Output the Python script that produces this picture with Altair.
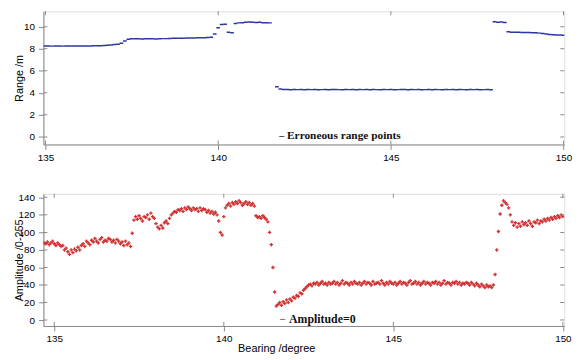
import altair as alt
import pandas as pd

# ---------------- data ----------------
# Range (m), bearing 135.0 .. 150.0 step 0.1 ; None = no return
RANGE = [
    8.25, 8.25, 8.24, 8.25, 8.25, 8.24, 8.25, 8.25, 8.26, 8.25,   # 135.x
    8.25, 8.26, 8.25, 8.26, 8.27, 8.27, 8.28, 8.30, 8.32, 8.35,   # 136.x
    8.38, 8.42, 8.50, 8.70, 8.86, 8.90, 8.90, 8.90, 8.88, 8.90,   # 137.x
    8.90, 8.90, 8.88, 8.90, 8.92, 8.92, 8.93, 8.95, 8.95, 8.96,   # 138.x
    8.96, 8.97, 8.98, 8.98, 8.99, 9.00, 9.00, 9.02, 9.05, 9.35,   # 139.x
    9.90, 10.20, 10.22, 9.50, 9.45, 10.30, 10.35, 10.37, 10.40, 10.42,  # 140.x
    10.40, 10.38, 10.40, 10.37, 10.36, 10.35, None, 4.55, 4.35, 4.30,   # 141.x
    4.30, 4.28, 4.30, 4.29, 4.31, 4.28, 4.30, 4.29, 4.30, 4.28,   # 142.x
    4.29, 4.30, 4.28, 4.30, 4.31, 4.29, 4.28, 4.30, 4.29, 4.30,   # 143.x
    4.28, 4.30, 4.29, 4.31, 4.28, 4.30, 4.29, 4.28, 4.30, 4.29,   # 144.x
    4.30, 4.28, 4.29, 4.30, 4.31, 4.28, 4.30, 4.29, 4.30, 4.28,   # 145.x
    4.29, 4.30, 4.28, 4.30, 4.29, 4.28, 4.30, 4.29, 4.31, 4.28,   # 146.x
    4.30, 4.29, 4.28, 4.30, 4.29, 4.30, 4.28, 4.29, 4.30, 4.28,   # 147.x
    10.45, 10.40, 10.42, 10.38,                                   # 148.0-148.3
    9.55, 9.50, 9.50, 9.50, 9.48, 9.48, 9.47, 9.46, 9.45, 9.42,   # 148.4-149.3
    9.38, 9.34, 9.30, 9.27, 9.25, 9.24, 9.22,                     # 149.4-150.0
]
RANGE_START, RANGE_STEP = 135.0, 0.1

# Amplitude (0-255), bearing 134.70 .. 150.00 step 0.05
AMP = [
    88, 87, 89, 86, 88, 90, 87, 85, 88, 86,
    84, 85, 80, 82, 78, 75, 80, 77, 81, 79,
    83, 80, 85, 87, 84, 90, 88, 86, 91, 89,
    93, 90, 88, 92, 94, 89, 91, 90, 93, 92,
    89, 91, 88, 92, 90, 87, 89, 85, 90, 86,
    88, 84, 99, 114, 118, 115, 119, 116, 113, 118,
    117, 120, 115, 122, 118, 116, 110, 106, 104, 108,
    105, 111, 113, 110, 116, 120, 122, 124, 123, 126,
    125, 127, 124, 128, 126, 129, 127, 125, 128, 126,
    127, 124, 128, 125, 127, 126, 123, 125, 122, 124,
    121, 123, 120, 113, 100, 97, 118, 128, 131, 133,
    130, 134, 132, 135, 133, 136, 134, 131, 133, 135,
    132, 134, 131, 133, 130, 119, 117, 118, 116, 119,
    117, 115, 112, 100, 86, 60, 32, 16, 18, 20,
    17, 21, 19, 23, 20, 24, 22, 26, 25, 28,
    27, 31, 30, 34, 36, 38, 40, 41, 39, 42,
    41, 43, 40, 42, 44, 41, 42, 40, 43, 41,
    42, 44, 41, 43, 40, 42, 45, 41, 43, 42,
    40, 43, 41, 44, 42, 41, 43, 40, 42, 44,
    41, 43, 42, 40, 44, 41, 42, 43, 41, 45,
    42, 40, 43, 41, 44, 42, 41, 43, 40, 42,
    44, 41, 43, 42, 40, 43, 45, 41, 42, 44,
    41, 43, 40, 42, 44, 41, 43, 42, 40, 43,
    42, 44, 41, 43, 40, 42, 45, 41, 43, 42,
    40, 43, 42, 44, 41, 43, 40, 42, 41, 43,
    42, 40, 43, 41, 39, 42, 40, 38, 41, 39,
    37, 40, 38, 39, 37, 40, 52, 80, 101, 121,
    131, 136, 134, 132, 128, 120, 112, 108, 111, 106,
    110, 107, 112, 109, 111, 108, 113, 110, 107, 112,
    111, 114, 110, 113, 112, 115, 113, 116, 114, 117,
    115, 118, 116, 119, 117, 120, 118,
]
AMP_START, AMP_STEP = 134.70, 0.05

X_TICKS = [135, 140, 145, 150]
RANGE_TICKS = [0, 2, 4, 6, 8, 10]
AMP_TICKS = [0, 20, 40, 60, 80, 100, 120, 140]

TOP_LABEL = "Erroneous range points"
BOTTOM_LABEL = "Amplitude=0"

# ---------------- tables ----------------
range_df = pd.DataFrame({
    "bearing": [round(RANGE_START + RANGE_STEP * i, 2) for i in range(len(RANGE))],
    "value": RANGE,
}).dropna()
amp_df = pd.DataFrame({
    "bearing": [round(AMP_START + AMP_STEP * i, 2) for i in range(len(AMP))],
    "value": AMP,
})

W = 528
H_TOP = 135
H_BOT = 134
TICK_LEN = 4
LABEL_FONT = "Liberation Sans"
TICK_COLOR = "#8a8a8a"
BAR_SHAPE = "M-1,-0.4H1V0.4H-1Z"


def panel(df, color, xdom, ydom, yticks, ytitle, xtitle, h, label,
          shape, size, dash_color, dash_x, text_x, text_y, text_size):
    xaxis = alt.Axis(values=X_TICKS, format="d", title=xtitle, grid=False,
                     labelPadding=3, minExtent=13, maxExtent=13,
                     labelFlush=False,
                     titleX=236, titleY=23, titleAlign="center",
                     titleBaseline="middle", titleFontWeight="normal")
    xscale = alt.Scale(domain=xdom, nice=False, zero=False)
    yaxis = alt.Axis(values=yticks, format="d", title=ytitle, grid=False,
                     labelPadding=4,
                     minExtent=17, maxExtent=17, titlePadding=2,
                     labelFlush=False, titleFontWeight="normal")
    yscale = alt.Scale(domain=ydom, nice=False, zero=False)
    x = alt.X("bearing:Q", scale=xscale, axis=xaxis)
    y = alt.Y("value:Q", scale=yscale, axis=yaxis)

    # inward tick marks on the four sides: ticks centred on the frame,
    # the outer half is clipped away
    n = len(X_TICKS)
    m = len(yticks)
    xt_df = pd.DataFrame({"bearing": X_TICKS * 2,
                          "value": [ydom[0]] * n + [ydom[1]] * n})
    yt_df = pd.DataFrame({"value": list(yticks) * 2,
                          "bearing": [xdom[0]] * m + [xdom[1]] * m})

    pts = alt.Chart(df).mark_point(shape=shape, filled=True, size=size,
                                   color=color, opacity=0.95, clip=True
                                   ).encode(x=x, y=y)
    xt = alt.Chart(xt_df).mark_tick(orient="vertical", size=2 * TICK_LEN,
                                    thickness=1, color=TICK_COLOR, clip=True,
                                    opacity=1).encode(x=x, y=y)
    yt = alt.Chart(yt_df).mark_tick(orient="horizontal", size=2 * TICK_LEN,
                                    thickness=1, color=TICK_COLOR, clip=True,
                                    opacity=1).encode(x=x, y=y)

    lab_df = pd.DataFrame({"t": [label]})
    dash = alt.Chart(lab_df).mark_text(
        text="\u2013", font="Liberation Serif", fontWeight="bold", fontSize=10,
        color=dash_color, align="left", baseline="middle").encode(
        x=alt.value(dash_x), y=alt.value(text_y))
    txt = alt.Chart(lab_df).mark_text(
        font="Liberation Serif", fontWeight="bold", fontSize=text_size,
        color="#111111", align="left", baseline="middle").encode(
        text="t:N", x=alt.value(text_x), y=alt.value(text_y))
    return alt.layer(pts, xt, yt, dash, txt).properties(width=W, height=h)


top = panel(range_df, "#1f2a9c", [134.94, 150.02], [-0.69, 11.4],
            RANGE_TICKS, "Range /m", None, H_TOP, TOP_LABEL,
            BAR_SHAPE, 14, "#222222", 239, 247, H_TOP - 8.5, 11.5)
bottom = panel(amp_df, "#cc2a2a", [134.68, 150.04], [-6.7, 144],
               AMP_TICKS, "Amplitude /0-255", "Bearing /degree", H_BOT,
               BOTTOM_LABEL, "cross", 12, "#cc2a2a", 240, 249, H_BOT - 7, 12)

chart = alt.vconcat(top, bottom, spacing=29).properties(
    padding={"left": 13, "top": 8, "right": 8, "bottom": 2}
).configure_view(stroke="#a0a0a0", strokeWidth=1.3).configure_axis(
    ticks=False, domain=False, grid=False,
    labelFont=LABEL_FONT, labelFontSize=7.5, labelColor="#555555",
    titleFont=LABEL_FONT, titleFontSize=12.5, titleFontWeight="normal",
    titleColor="#333333",
).configure(background="white")

chart.save("out.html", embed_options={"renderer": "svg", "actions": False})
